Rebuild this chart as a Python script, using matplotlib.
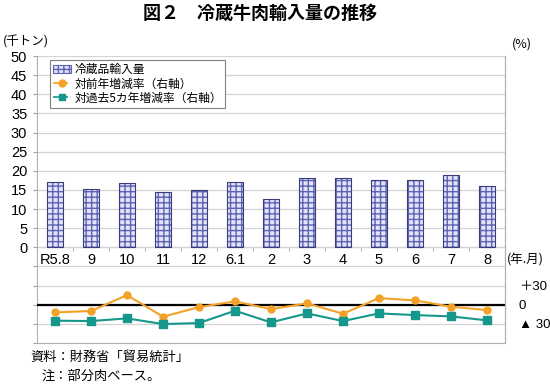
import numpy as np
import matplotlib.pyplot as plt
from matplotlib.patches import Patch
from matplotlib.lines import Line2D

plt.rcParams['font.family'] = ['Liberation Sans', 'Noto Sans CJK JP', 'DejaVu Sans']

# データ
months = ['R5.8', '9', '10', '11', '12', '6.1', '2', '3', '4', '5', '6', '7', '8']
imports = [17.2, 15.3, 16.8, 14.5, 15.1, 17.0, 12.5, 18.2, 18.2, 17.7, 17.6, 18.8, 15.9]
yoy = [-12.0, -9.9, 15.1, -18.8, -3.7, 5.2, -6.8, 2.1, -14.1, 10.4, 6.8, -3.1, -8.4]
vs5yr = [-25.0, -25.6, -21.4, -30.3, -28.7, -9.4, -27.7, -13.6, -25.6, -13.6, -16.2, -18.3, -24.5]

c_orange = '#f3a229'
c_teal = '#16978c'
c_grid = '#d4d4d4'
jp = ['Noto Sans CJK JP', 'DejaVu Sans']

fig = plt.figure(figsize=(5.5, 3.87), dpi=100)
ax = fig.add_axes([37/550, 1 - 343/387, 468/550, 287/387])
x = np.arange(len(months))

# 棒（網掛け）
ax.bar(x, imports, width=0.42, color='#e2e3f7', hatch='+++', edgecolor='#5d63b5',
       linewidth=0, zorder=2)
ax.bar(x, imports, width=0.42, fill=False, edgecolor='#3a3d78', linewidth=0.8, zorder=3)

ax.set_xlim(-0.5, len(months) - 0.5)
ax.set_ylim(-25, 50)
ax.set_yticks(np.arange(-25, 51, 5))
ax.set_yticklabels([str(v) if v >= 0 else '' for v in range(-25, 51, 5)], fontsize=10.5)
ax.tick_params(axis='y', length=3, color='#a0a0a0', pad=4)
ax.grid(axis='y', color=c_grid, linewidth=0.9, zorder=0)
ax.set_xticks([])
for s in ['left', 'right', 'bottom']:
    ax.spines[s].set_color('#b0b0b0')
ax.spines['top'].set_visible(False)

# 0の位置の横軸（月ラベル）
sec = ax.secondary_xaxis(25 / 75)
sec.set_xticks(x)
sec.set_xticklabels(months, fontsize=10.5)
sec.set_xticks(x[:-1] + 0.5, minor=True)
sec.tick_params(axis='x', which='major', length=0, pad=4)
sec.tick_params(axis='x', which='minor', length=3, color='#a0a0a0')
sec.spines['bottom'].set_color('#a0a0a0')

# 右軸（増減率）
ax2 = ax.twinx()
ax2.set_ylim(-60, 390)
ax2.set_yticks([30, 0, -30])
ax2.set_yticklabels(['＋30', '0', '▲ 30'], fontsize=9.5)
ax2.tick_params(axis='y', length=0, pad=10)
for s in ['top', 'left', 'bottom']:
    ax2.spines[s].set_visible(False)
ax2.spines['right'].set_color('#b0b0b0')
ax2.axhline(0, color='black', linewidth=1.6, zorder=1)
ax2.plot(x, yoy, color=c_orange, marker='o', markersize=5, linewidth=1.5, zorder=4)
ax2.plot(x, vs5yr, color=c_teal, marker='s', markersize=5.5, linewidth=1.5, zorder=4)

# 凡例
handles = [
    Patch(facecolor='#e2e3f7', edgecolor='#5d63b5', hatch='+++', linewidth=0.8),
    Line2D([], [], color=c_orange, marker='o', markersize=5, linestyle='--', linewidth=1.2),
    Line2D([], [], color=c_teal, marker='s', markersize=5, linestyle='--', linewidth=1.2),
]
labels = ['冷蔵品輸入量', '対前年増減率（右軸）', '対過去5カ年増減率（右軸）']
leg = ax2.legend(handles, labels, loc='upper left', bbox_to_anchor=(0.028, 0.985),
                 prop={'family': jp, 'size': 8.5}, frameon=True, fancybox=False,
                 framealpha=1, handlelength=1.5, handletextpad=0.3, borderpad=0.25,
                 labelspacing=0.1, borderaxespad=0)
leg.get_frame().set_edgecolor('#808080')
leg.get_frame().set_linewidth(0.8)

# テキスト
fig.text(260/550, 1 - 13/387, '図２　冷蔵牛肉輸入量の推移', ha='center', va='center',
         fontsize=13, fontweight='bold', family=jp)
fig.text(3/550, 1 - 42/387, '(千トン)', ha='left', va='center', fontsize=9, family=jp)
fig.text(512/550, 1 - 44/387, '(%)', ha='left', va='center', fontsize=9, family=jp)
fig.text(507/550, 1 - 260/387, '(年.月)', ha='left', va='center', fontsize=9, family=jp)
fig.text(30/550, 1 - 357/387, '資料：財務省「貿易統計」', ha='left', va='center',
         fontsize=9.5, family=jp)
fig.text(42/550, 1 - 376/387, '注：部分肉ベース。', ha='left', va='center',
         fontsize=9.5, family=jp)

fig.savefig('out.png', dpi=100)
